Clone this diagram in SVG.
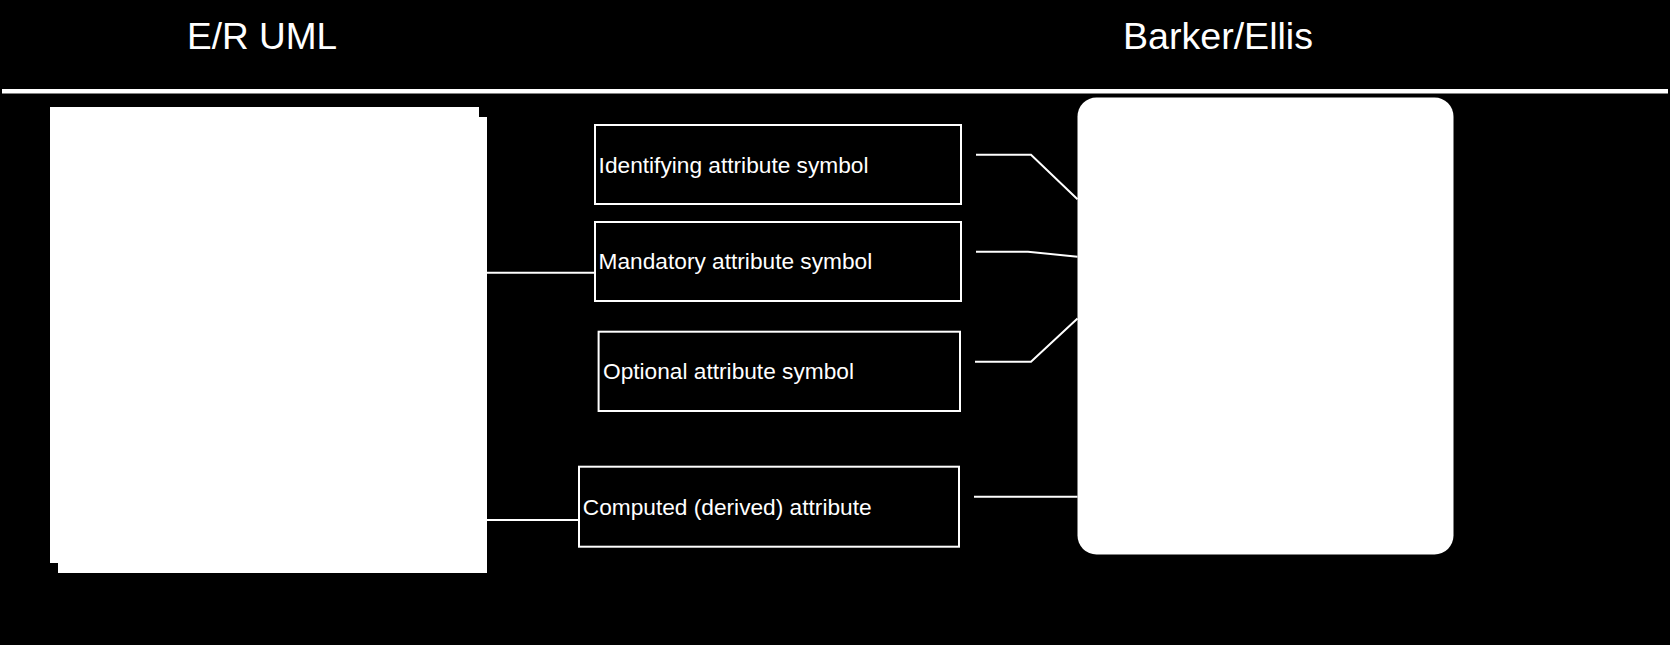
<svg xmlns="http://www.w3.org/2000/svg" width="1670" height="645" viewBox="0 0 1670 645">
<style>
.lbl{font-family:"Liberation Sans",Arial,sans-serif;font-size:22.7px;fill:#fff}
.ttl{font-family:"Liberation Sans",Arial,sans-serif;font-size:37px;fill:#fff}
.box{fill:#000;stroke:#fff;stroke-width:2}
.conn{fill:none;stroke:#fff;stroke-width:2}
</style>
<rect x="0" y="0" width="1670" height="645" fill="#000"/>
<g id="titles">
<text class="ttl" x="187" y="49">E/R UML</text>
<text class="ttl" x="1123" y="49" textLength="190" lengthAdjust="spacingAndGlyphs">Barker/Ellis</text>
<line x1="2" y1="91.3" x2="1668" y2="91.3" stroke="#fff" stroke-width="4.5"/>
</g>
<g id="uml-entity">
<rect x="58" y="117" width="429" height="456" fill="#fff"/>
<rect x="50" y="107" width="429" height="456" fill="#fff"/>
</g>
<g id="barker-entity">
<rect x="1077.5" y="97.5" width="376" height="457" rx="19" ry="19" fill="#fff"/>
</g>
<g id="connectors">
<line class="conn" x1="487" y1="272.7" x2="595" y2="272.7"/>
<line class="conn" x1="487" y1="520" x2="579" y2="520"/>
<polyline class="conn" points="976,154.7 1031,154.7 1077.5,199.3"/>
<polyline class="conn" points="976,251.7 1028,251.7 1077.5,256.7"/>
<polyline class="conn" points="975,361.7 1031,361.7 1077.5,318.5"/>
<line class="conn" x1="974" y1="496.7" x2="1077.5" y2="496.7"/>
</g>
<g id="identifying">
<rect class="box" x="595" y="125" width="366" height="79"/>
<text class="lbl" x="598.6" y="173.3">Identifying attribute symbol</text>
</g>
<g id="mandatory">
<rect class="box" x="595" y="222" width="366" height="79"/>
<text class="lbl" x="598.6" y="269.3">Mandatory attribute symbol</text>
</g>
<g id="optional">
<rect class="box" x="598.6" y="331.7" width="361.4" height="79.3"/>
<text class="lbl" x="603" y="379.3">Optional attribute symbol</text>
</g>
<g id="computed">
<rect class="box" x="579" y="466.7" width="380" height="80"/>
<text class="lbl" x="582.8" y="515">Computed (derived) attribute</text>
</g>
</svg>
